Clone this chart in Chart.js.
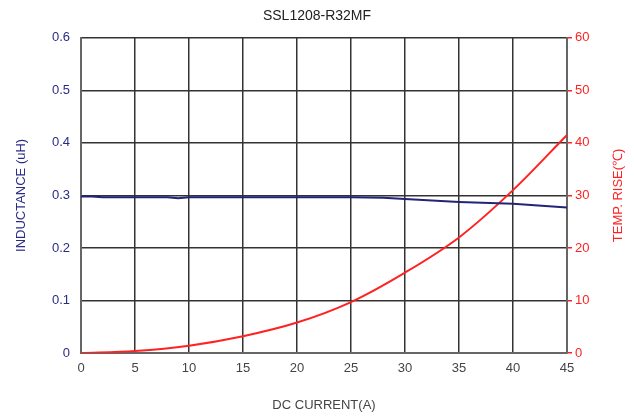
<!DOCTYPE html>
<html>
<head>
<meta charset="utf-8">
<script src="https://cdn.jsdelivr.net/npm/chart.js@4"></script>
<style>
  html, body { margin: 0; padding: 0; background: #fff; }
  #wrap { width: 634px; height: 417px; }
</style>
</head>
<body>
<div id="wrap"><canvas id="chart" width="634" height="417"></canvas></div>
<script>
// Datos
const chartTitle = 'SSL1208-R32MF';
const xTicks = [0, 5, 10, 15, 20, 25, 30, 35, 40, 45];

const indCurrent = [0, 1, 2, 5, 8, 9, 10, 15, 20, 25, 28, 30, 35, 40, 45];
const inductance = [0.298, 0.298, 0.2965, 0.2965, 0.2965, 0.2945, 0.2965, 0.2965, 0.2965, 0.2965, 0.2955, 0.293, 0.2876, 0.284, 0.277];

const tempCurrent = [0, 5, 10, 15, 20, 25, 30, 35, 40, 45];
const tempRise = [0, 0.4, 1.4, 3.2, 5.8, 9.7, 15.3, 22, 31, 41.5];

const navy = '#2b2b86';
const red = '#ff2222';
const fontFam = 'Liberation Sans, Arial';

const toPoints = (xs, ys) => xs.map((x, i) => ({ x: x, y: ys[i] }));

// Título del eje derecho, girado como el izquierdo (de abajo hacia arriba)
const rightTitle = {
    id: 'rightTitle',
    afterDraw(chart) {
        const ctx = chart.ctx;
        const area = chart.chartArea;
        ctx.save();
        ctx.translate(618, (area.top + area.bottom) / 2);
        ctx.rotate(-Math.PI / 2);
        ctx.fillStyle = red;
        ctx.font = '13px ' + fontFam;
        ctx.textAlign = 'center';
        ctx.textBaseline = 'middle';
        ctx.fillText('TEMP. RISE(℃)', 0, 0);
        ctx.restore();
    }
};

new Chart(document.getElementById('chart'), {
    type: 'line',
    data: {
        datasets: [{
            label: 'INDUCTANCE',
            data: toPoints(indCurrent, inductance),
            yAxisID: 'y',
            borderColor: '#23237a',
            borderWidth: 2,
            pointRadius: 0,
            tension: 0
        }, {
            label: 'TEMP. RISE',
            data: toPoints(tempCurrent, tempRise),
            yAxisID: 'y1',
            borderColor: red,
            borderWidth: 2,
            pointRadius: 0,
            cubicInterpolationMode: 'monotone'
        }]
    },
    options: {
        responsive: false,
        animation: false,
        layout: { padding: 0 },
        plugins: {
            legend: { display: false },
            tooltip: { enabled: false },
            title: {
                display: true,
                text: chartTitle,
                color: '#222',
                font: { family: fontFam, size: 14, weight: 'normal' },
                padding: { top: 8, bottom: 13 }
            }
        },
        scales: {
            x: {
                type: 'linear',
                min: 0, max: 45,
                afterBuildTicks: (s) => { s.ticks = xTicks.map(v => ({ value: v })); },
                afterFit: (s) => { s.height = 64; },
                grid: { color: '#333', lineWidth: 1.5, drawTicks: false },
                border: { color: '#666', width: 2 },
                ticks: {
                    color: '#444',
                    padding: 8,
                    font: { family: fontFam, size: 13 }
                },
                title: {
                    display: true,
                    text: 'DC CURRENT(A)',
                    color: '#444',
                    font: { family: fontFam, size: 13 },
                    padding: { top: 12 }
                }
            },
            y: {
                position: 'left',
                min: 0, max: 0.6,
                afterFit: (s) => { s.width = 81; },
                grid: { color: '#333', lineWidth: 1.5, drawTicks: false },
                border: { color: '#666', width: 2 },
                ticks: {
                    stepSize: 0.1,
                    color: navy,
                    padding: 11,
                    font: { family: fontFam, size: 13 },
                    callback: (v) => Number(v.toFixed(1))
                },
                title: {
                    display: true,
                    text: 'INDUCTANCE (uH)',
                    color: navy,
                    font: { family: fontFam, size: 13 },
                    padding: { bottom: 0, top: 14 }
                }
            },
            y1: {
                position: 'right',
                min: 0, max: 60,
                afterFit: (s) => { s.width = 67; },
                grid: { drawOnChartArea: false, color: red, tickLength: 5, lineWidth: 1.5 },
                border: { color: '#666', width: 2 },
                ticks: {
                    stepSize: 10,
                    color: red,
                    padding: 3,
                    font: { family: fontFam, size: 13 }
                },
                title: { display: false }
            }
        }
    },
    plugins: [rightTitle]
});
</script>
</body>
</html>
